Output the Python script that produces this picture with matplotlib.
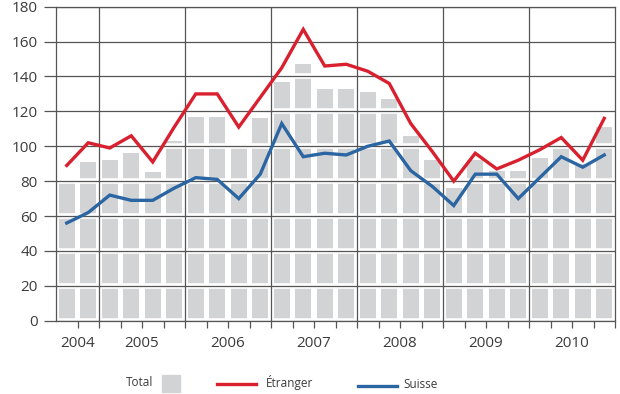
import numpy as np
import matplotlib.pyplot as plt
import matplotlib.patheffects as pe
from matplotlib.patches import Rectangle
from matplotlib.lines import Line2D

plt.rcParams['font.family'] = ['Open Sans', 'DejaVu Sans']

# trimestres 2004 T1 - 2010 T2
total = [79, 91, 92, 96, 85, 103, 117, 117, 100, 116, 137, 147, 133, 133,
         131, 127, 106, 92, 76, 92, 86, 86, 93, 100, 90, 111]
etranger = [89, 102, 99, 106, 91, 111, 130, 130, 111, 128, 145, 167, 146, 147,
            143, 136, 113, 97, 80, 96, 87, 92, 98, 105, 92, 116]
suisse = [56, 62, 72, 69, 69, 76, 82, 81, 70, 84, 113, 94, 96, 95,
          100, 103, 86, 77, 66, 84, 84, 70, 82, 94, 88, 95]
years = ['2004', '2005', '2006', '2007', '2008', '2009', '2010']
year_pos = [0.5, 3.5, 7.5, 11.5, 15.5, 19.5, 23.5]

red = '#d9202f'
blue = '#2b66a3'
grey_bar = '#d2d3d5'
txt = '#3c3c3c'
grid_c = '#555555'

fig = plt.figure(figsize=(6.2, 3.94), dpi=100)
ax = fig.add_axes([56 / 620, 1 - 320.7 / 394, 559 / 620, 314 / 394])

x = np.arange(len(total))
ax.bar(x, total, width=0.73, color=grey_bar, zorder=1)

# grille horizontale avec un liseré blanc sur les barres
for v in range(0, 181, 20):
    ax.axhline(v, color=grid_c, lw=0.9, zorder=2,
               path_effects=[pe.Stroke(linewidth=4, foreground='white'), pe.Normal()])
for v in np.arange(1.5, 25, 4):
    ax.axvline(v, color=grid_c, lw=0.9, zorder=2)

ax.plot(x, etranger, color=red, lw=2.4, zorder=4, solid_joinstyle='miter')
ax.plot(x, suisse, color=blue, lw=2.4, zorder=4, solid_joinstyle='miter')

ax.set_xlim(-0.5, 25.5)
ax.set_ylim(0, 180)
ax.set_yticks(range(0, 181, 20))
ax.tick_params(axis='y', length=9, width=0.9, color=grid_c, pad=4,
               labelsize=11, labelcolor=txt)
ax.set_xticks(np.arange(0.5, 25.6, 1))
ax.set_xticklabels([])
ax.tick_params(axis='x', length=5, width=0.9, color=grid_c)
for s in ax.spines.values():
    s.set_color(grid_c)
    s.set_linewidth(0.9)

for p, y in zip(year_pos, years):
    ax.text(p, -0.05, y, transform=ax.get_xaxis_transform(), ha='center',
            va='top', fontsize=11, color=txt)

# légende
fig.text(126 / 620, 1 - 383 / 394, 'Total', fontsize=8.5, color=txt, va='center')
fig.patches.append(Rectangle((162 / 620, 1 - 392 / 394), 18 / 620, 17 / 394,
                             transform=fig.transFigure, color=grey_bar))
fig.lines.append(Line2D([217 / 620, 256 / 620], [1 - 384 / 394] * 2,
                        transform=fig.transFigure, color=red, lw=2.4))
fig.text(266 / 620, 1 - 383 / 394, 'Étranger', fontsize=8.5, color=txt, va='center')
fig.lines.append(Line2D([358 / 620, 397 / 620], [1 - 386 / 394] * 2,
                        transform=fig.transFigure, color=blue, lw=2.4))
fig.text(403 / 620, 1 - 384 / 394, 'Suisse', fontsize=8.5, color=txt, va='center')

fig.savefig('out.png', dpi=100)
